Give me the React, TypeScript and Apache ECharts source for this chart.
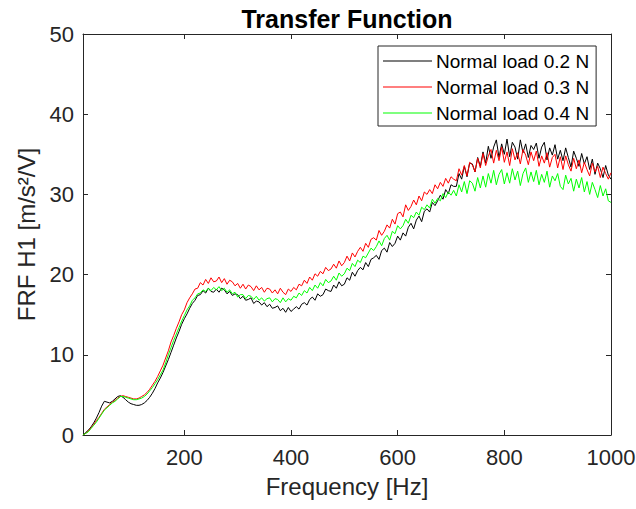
import React, { useEffect, useRef } from "react";
import * as echarts from "echarts";

// Frequency grid (Hz), 5 Hz step from 10 to 1000
const freqs: number[] = Array.from({ length: 199 }, (_, i) => 10 + 5 * i);

const xTicks = [200, 400, 600, 800, 1000];

const seriesNames = ["Normal load 0.2 N", "Normal load 0.3 N", "Normal load 0.4 N"];

const load02 = [
  0, 0.3, 0.6, 1.0, 1.5, 2.1, 2.8, 3.6, 4.2, 4.1,
  4.0, 4.2, 4.5, 4.8, 4.9, 4.7, 4.4, 4.1, 3.9, 3.8,
  3.7, 3.7, 3.8, 4.0, 4.3, 4.7, 5.2, 5.8, 6.5, 7.1,
  7.8, 8.6, 9.4, 10.3, 11.2, 12.1, 12.9, 13.8, 14.5, 15.1,
  15.8, 16.4, 16.8, 17.4, 17.5, 18.0, 17.7, 18.3, 17.9, 17.8,
  18.2, 17.8, 18.3, 18.1, 17.6, 17.9, 17.4, 17.6, 17.5, 17.0,
  17.3, 16.8, 16.9, 17.1, 16.4, 16.7, 16.6, 16.2, 16.5, 16.0,
  16.3, 15.8, 15.9, 16.1, 15.5, 15.8, 15.3, 15.9, 15.4, 15.7,
  16.0, 15.7, 16.3, 16.5, 16.2, 16.9, 17.2, 16.8, 17.6, 17.3,
  17.5, 18.2, 18.0, 17.9, 18.7, 18.3, 19.1, 18.6, 18.8, 19.6,
  19.3, 20.3, 19.8, 20.5, 20.9, 20.6, 21.5, 21.0, 21.9, 22.1,
  22.4, 21.9, 23.0, 23.3, 22.8, 24.0, 23.5, 23.9, 24.8, 24.3,
  25.2, 24.8, 25.9, 26.4, 25.7, 26.8, 27.3, 26.6, 27.9, 28.2,
  27.8, 29.0, 28.6, 29.2, 29.9, 29.4, 30.6, 30.1, 31.2, 31.0,
  31.0, 32.6, 31.9, 33.5, 32.2, 33.9, 33.8, 32.8, 34.6, 33.5,
  35.3, 33.9, 36.0, 34.5, 35.9, 36.8, 34.6, 36.3, 35.0, 36.9,
  34.7, 36.5, 35.9, 34.4, 36.8, 35.2, 36.3, 34.6, 36.1, 35.6,
  36.4, 34.5, 35.9, 36.5, 34.3, 35.8, 34.9, 36.2, 34.4, 35.5,
  34.2, 35.8, 34.6, 33.4, 35.4, 34.5, 33.5, 35.1, 33.8, 34.7,
  33.1, 34.4, 32.5, 33.9, 33.2, 32.1, 33.6, 32.4, 31.9,
];

const load03 = [
  0, 0.2, 0.5, 0.9, 1.3, 1.8, 2.2, 2.7, 3.2, 3.5,
  3.8, 4.1, 4.3, 4.6, 4.8, 4.9, 4.8, 4.7, 4.6, 4.5,
  4.5, 4.6, 4.8, 5.0, 5.3, 5.7, 6.2, 6.7, 7.3, 8.0,
  8.7, 9.6, 10.5, 11.6, 12.4, 13.3, 14.1, 15.0, 15.6, 16.5,
  17.1, 17.6, 18.2, 18.3, 19.0, 18.7, 19.4, 18.9, 19.6, 19.1,
  19.2, 19.7, 19.0, 19.5, 18.8, 19.3, 19.1, 18.6, 18.9, 18.3,
  18.8, 18.2, 18.7, 18.5, 18.0, 18.6, 18.1, 18.4, 17.8, 18.3,
  18.2, 17.7, 18.1, 17.6, 18.3, 17.8, 17.5, 18.2, 17.9, 18.4,
  18.1, 18.8, 18.6, 19.3, 18.9, 19.7, 19.3, 20.1, 19.8, 20.4,
  20.1, 20.9, 20.5, 20.7, 21.3, 20.8, 21.7, 21.1, 21.5, 22.3,
  21.7, 22.7, 22.2, 22.9, 23.4, 22.9, 23.9, 23.4, 24.4, 24.6,
  24.3, 25.5, 24.9, 25.4, 26.2, 25.8, 26.9, 26.3, 27.6, 27.8,
  27.2, 28.7, 28.0, 28.5, 29.3, 28.7, 29.8, 29.2, 30.3, 30.0,
  30.6, 30.1, 31.2, 30.7, 31.5, 31.0, 32.0, 31.4, 32.2, 31.9,
  31.7, 33.2, 32.4, 33.6, 32.3, 34.0, 33.7, 32.8, 34.5, 33.3,
  35.1, 33.6, 34.8, 35.6, 33.9, 35.5, 34.2, 35.9, 34.0, 35.3,
  33.6, 35.7, 34.3, 35.2, 33.8, 35.6, 34.9, 33.7, 35.3, 34.2,
  35.4, 33.5, 34.8, 33.9, 35.2, 33.4, 34.6, 35.0, 33.3, 34.7,
  33.1, 34.8, 33.7, 32.9, 34.5, 33.2, 34.3, 32.7, 34.0, 33.1,
  32.3, 33.9, 32.8, 33.5, 32.1, 33.4, 32.6, 31.9, 32.7,
];

const load04 = [
  0, 0.2, 0.4, 0.8, 1.2, 1.6, 2.1, 2.6, 3.1, 3.4,
  3.7, 4.0, 4.2, 4.5, 4.8, 4.8, 4.7, 4.6, 4.5, 4.4,
  4.4, 4.5, 4.6, 4.8, 5.1, 5.5, 5.9, 6.4, 6.9, 7.5,
  8.1, 9.0, 10.0, 10.9, 11.8, 12.6, 13.4, 14.2, 14.9, 15.6,
  16.1, 16.8, 17.1, 17.6, 17.7, 18.1, 17.9, 18.3, 18.0, 18.4,
  18.1, 18.5, 18.0, 18.3, 17.8, 18.1, 17.6, 17.8, 17.2, 17.5,
  17.5, 17.0, 17.4, 17.3, 16.9, 17.3, 16.8, 17.1, 16.7, 17.0,
  17.1, 16.6, 17.0, 16.9, 16.5, 17.1, 16.6, 17.0, 16.8, 17.3,
  17.1, 17.7, 17.4, 18.0, 17.7, 18.4, 18.0, 18.7, 18.3, 19.0,
  18.6, 19.4, 19.0, 19.2, 19.8, 19.3, 20.2, 19.8, 20.1, 20.8,
  20.5, 21.4, 21.0, 21.8, 21.5, 22.3, 22.1, 22.7, 23.3, 23.0,
  23.5, 24.2, 23.6, 24.5, 24.9, 24.3, 25.4, 25.1, 26.1, 25.7,
  26.1, 26.9, 26.4, 27.4, 27.1, 27.8, 27.4, 28.4, 28.1, 28.7,
  28.3, 29.4, 28.9, 29.5, 29.2, 30.1, 29.6, 30.3, 29.9, 30.5,
  29.8, 31.2, 30.3, 31.6, 30.1, 31.7, 31.4, 30.4, 32.1, 30.8,
  32.3, 30.9, 32.6, 31.4, 33.0, 31.2, 32.5, 33.1, 31.3, 32.7,
  31.4, 33.2, 31.8, 32.9, 31.1, 32.6, 33.3, 31.5, 32.8, 31.6,
  33.0, 31.2, 32.5, 31.5, 32.9, 30.9, 32.3, 31.7, 32.6, 31.0,
  30.6, 32.4, 31.3, 32.0, 30.4, 31.9, 30.8, 32.1, 30.3, 31.6,
  30.0, 31.5, 30.6, 29.6, 31.1, 29.8, 30.7, 29.2, 29.0,
];

const seriesValues = [load02, load03, load04];
const seriesColors = ["#000000", "#ff0000", "#00ff00"];

const FONT = "'Liberation Sans', Arial, Helvetica, sans-serif";
const AXIS_COLOR = "#262626";

export default function App() {
  const ref = useRef<HTMLDivElement>(null);

  useEffect(() => {
    if (!ref.current) return;
    const chart = echarts.init(ref.current, undefined, { renderer: "svg" });

    const baseX = {
      type: "value" as const,
      min: 10,
      max: 1000,
      splitLine: { show: false },
      axisLine: { show: true, onZero: false, lineStyle: { color: AXIS_COLOR, width: 1 } },
      axisTick: { show: true, inside: true, length: 5, customValues: xTicks, lineStyle: { color: AXIS_COLOR } },
    };
    const baseY = {
      type: "value" as const,
      min: 0,
      max: 50,
      interval: 10,
      splitLine: { show: false },
      axisLine: { show: true, onZero: false, lineStyle: { color: AXIS_COLOR, width: 1 } },
      axisTick: { show: true, inside: true, length: 5, lineStyle: { color: AXIS_COLOR } },
    };

    chart.setOption({
      animation: false,
      backgroundColor: "#ffffff",
      textStyle: { fontFamily: FONT },
      title: {
        text: "Transfer Function",
        left: 342,
        textAlign: "center",
        top: 1,
        textStyle: { fontFamily: FONT, fontWeight: "bold", fontSize: 25, color: "#000000" },
      },
      grid: { left: 83, right: 25, top: 34, bottom: 74, containLabel: false, outerBoundsMode: "none" },
      legend: {
        orient: "vertical",
        left: 378,
        top: 46,
        padding: [4, 7, 2, 5],
        itemGap: 4,
        itemWidth: 49,
        itemHeight: 1,
        icon: "rect",
        backgroundColor: "#ffffff",
        borderColor: AXIS_COLOR,
        borderWidth: 1,
        borderRadius: 0,
        textStyle: { fontFamily: FONT, fontSize: 19, color: "#000000", lineHeight: 22, padding: [0, 0, 0, -1] },
        data: seriesNames,
      },
      xAxis: [
        {
          ...baseX,
          position: "bottom",
          name: "Frequency [Hz]",
          nameLocation: "middle",
          nameGap: 39,
          nameTextStyle: { fontFamily: FONT, fontSize: 24, color: AXIS_COLOR },
          axisLabel: {
            show: true,
            customValues: xTicks,
            margin: 11,
            fontFamily: FONT,
            fontSize: 22,
            color: AXIS_COLOR,
            formatter: (v: number) => String(v),
          },
        },
        {
          ...baseX,
          position: "top",
          axisLabel: { show: false },
        },
      ],
      yAxis: [
        {
          ...baseY,
          position: "left",
          name: "FRF H1 [m/s²/V]",
          nameLocation: "middle",
          nameGap: 27,
          nameTextStyle: { fontFamily: FONT, fontSize: 24, color: AXIS_COLOR },
          axisLabel: { show: true, margin: 9, fontFamily: FONT, fontSize: 22, color: AXIS_COLOR },
        },
        {
          ...baseY,
          position: "right",
          axisLabel: { show: false },
        },
      ],
      series: seriesNames.map((name, k) => ({
        name,
        type: "line",
        xAxisIndex: 0,
        yAxisIndex: 0,
        showSymbol: false,
        symbol: "none",
        lineStyle: { color: seriesColors[k], width: 1 },
        itemStyle: { color: seriesColors[k] },
        data: freqs.map((f, i) => [f, seriesValues[k][i]]),
      })),
    });

    return () => chart.dispose();
  }, []);

  return (
    <div
      ref={ref}
      style={{ position: "absolute", left: 0, top: 0, width: 636, height: 509 }}
    />
  );
}
